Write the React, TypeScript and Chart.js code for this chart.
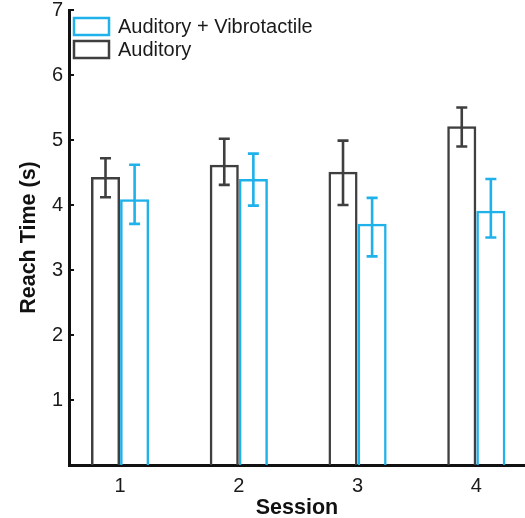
import React, { useEffect, useRef } from "react";
import { Chart, registerables } from "chart.js";

Chart.register(...registerables);

const sessions = [1, 2, 3, 4];
const auditory = [4.43, 4.62, 4.51, 5.21];
const auditoryLow = [4.12, 4.31, 4.0, 4.9];
const auditoryHigh = [4.72, 5.02, 4.99, 5.5];
const audVib = [4.09, 4.4, 3.71, 3.91];
const audVibLow = [3.71, 3.99, 3.21, 3.5];
const audVibHigh = [4.62, 4.79, 4.11, 4.4];
const yTicks = [1, 2, 3, 4, 5, 6, 7];

const BLACK = "#3f3f3f";
const BLUE = "#1fb1e9";
const FONT = "'Liberation Sans', Arial, Helvetica, sans-serif";

const errorBarPlugin = {
  id: "errorBars",
  afterDatasetsDraw(chart: any) {
    const ctx = chart.ctx;
    const yScale = chart.scales.y;
    chart.data.datasets.forEach((ds: any, i: number) => {
      const meta = chart.getDatasetMeta(i);
      meta.data.forEach((bar: any, j: number) => {
        const x = bar.x;
        const yTop = yScale.getPixelForValue(ds.errHigh[j]);
        const yBot = yScale.getPixelForValue(ds.errLow[j]);
        const cap = 5.5;
        ctx.save();
        ctx.strokeStyle = ds.borderColor;
        ctx.lineWidth = 2.6;
        ctx.beginPath();
        ctx.moveTo(x, yTop);
        ctx.lineTo(x, yBot);
        ctx.moveTo(x - cap, yTop);
        ctx.lineTo(x + cap, yTop);
        ctx.moveTo(x - cap, yBot);
        ctx.lineTo(x + cap, yBot);
        ctx.stroke();
        ctx.restore();
      });
    });
  },
};

const tickMarkPlugin = {
  id: "innerTicks",
  afterDraw(chart: any) {
    const ctx = chart.ctx;
    const yScale = chart.scales.y;
    const left = chart.chartArea.left;
    ctx.save();
    ctx.strokeStyle = "#111";
    ctx.lineWidth = 2;
    ctx.beginPath();
    yTicks.forEach((v) => {
      const y = yScale.getPixelForValue(v);
      ctx.moveTo(left, y);
      ctx.lineTo(left + 5, y);
    });
    ctx.stroke();
    ctx.restore();
  },
};

const legendPlugin = {
  id: "customLegend",
  afterDraw(chart: any) {
    const ctx = chart.ctx;
    const { left, top } = chart.chartArea;
    const items = [...chart.data.datasets].reverse();
    ctx.save();
    items.forEach((ds: any, k: number) => {
      const bx = left + 5;
      const by = top + 8 + k * 23;
      ctx.strokeStyle = ds.borderColor;
      ctx.lineWidth = 2.5;
      ctx.fillStyle = "#fff";
      ctx.fillRect(bx, by, 35, 17);
      ctx.strokeRect(bx, by, 35, 17);
      ctx.fillStyle = "#1a1a1a";
      ctx.font = `20px ${FONT}`;
      ctx.textAlign = "left";
      ctx.textBaseline = "middle";
      ctx.fillText(ds.label, bx + 44, by + 9);
    });
    ctx.restore();
  },
};

export default function App() {
  const canvasRef = useRef<HTMLCanvasElement | null>(null);

  useEffect(() => {
    document.body.style.margin = "0";
    const canvas = canvasRef.current;
    if (!canvas) return;
    const chart = new Chart(canvas, {
      type: "bar",
      data: {
        datasets: [
          {
            label: "Auditory",
            data: sessions.map((s, i) => ({ x: s, y: auditory[i] })),
            errLow: auditoryLow,
            errHigh: auditoryHigh,
            borderColor: BLACK,
            backgroundColor: "rgba(255,255,255,0)",
            borderWidth: 2.5,
          } as any,
          {
            label: "Auditory + Vibrotactile",
            data: sessions.map((s, i) => ({ x: s, y: audVib[i] })),
            errLow: audVibLow,
            errHigh: audVibHigh,
            borderColor: BLUE,
            backgroundColor: "rgba(255,255,255,0)",
            borderWidth: 2.5,
          } as any,
        ],
      },
      options: {
        responsive: false,
        animation: false,
        devicePixelRatio: 1,
        categoryPercentage: 0.49,
        barPercentage: 1,
        layout: { padding: { top: 10, left: 0, right: 0, bottom: 0 } },
        plugins: {
          legend: { display: false },
          tooltip: { enabled: false },
        },
        scales: {
          x: {
            type: "linear",
            offset: false,
            min: 0.57,
            max: 4.41,
            grid: { display: false, drawTicks: false, offset: false },
            border: { display: true, color: "#111", width: 3 },
            afterBuildTicks: (s: any) => {
              s.ticks = sessions.map((v) => ({ value: v }));
            },
            afterFit: (s: any) => {
              s.height = 53;
              s.paddingLeft = 0;
              s.paddingRight = 0;
            },
            ticks: {
              padding: 9,
              color: "#1a1a1a",
              font: { family: FONT, size: 20 },
              callback: (v: any) => String(v),
            },
            title: {
              display: true,
              text: "Session",
              color: "#111",
              font: { family: FONT, size: 21.5, weight: "bold" },
              padding: { top: 0, bottom: -3 },
            },
          },
          y: {
            min: 0,
            max: 7,
            grid: { display: false, drawTicks: false },
            border: { display: true, color: "#111", width: 3 },
            afterBuildTicks: (s: any) => {
              s.ticks = yTicks.map((v) => ({ value: v }));
            },
            afterFit: (s: any) => {
              s.width = 69;
              s.paddingTop = 0;
              s.paddingBottom = 0;
            },
            ticks: {
              padding: 6,
              color: "#1a1a1a",
              font: { family: FONT, size: 20 },
            },
            title: {
              display: true,
              text: "Reach Time (s)",
              color: "#111",
              font: { family: FONT, size: 21.5, weight: "bold" },
              padding: { top: 16, bottom: 0 },
            },
          },
        },
      } as any,
      plugins: [errorBarPlugin, tickMarkPlugin, legendPlugin],
    });
    return () => chart.destroy();
  }, []);

  return (
    <div style={{ width: 525, height: 518 }}>
      <canvas ref={canvasRef} width={525} height={518} />
    </div>
  );
}
